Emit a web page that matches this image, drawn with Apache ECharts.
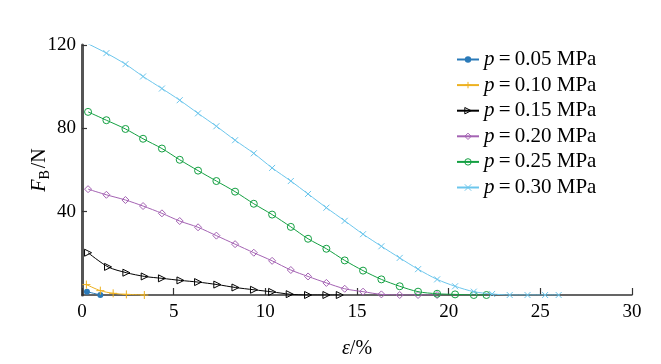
<!DOCTYPE html>
<html>
<head>
<meta charset="utf-8">
<script src="https://cdn.jsdelivr.net/npm/echarts@6/dist/echarts.min.js"></script>
<style>html,body{margin:0;padding:0;background:#fff}#c{width:661px;height:364px}</style>
</head>
<body>
<div id="c"></div>
<script>
// ---- data ----
const pressures = ['0.05', '0.10', '0.15', '0.20', '0.25', '0.30'];
const xTicks = [0, 5, 10, 15, 20, 25, 30];
const yTicks = [40, 80, 120];

const x005 = [0.27, 1.0];
const y005 = [1.6, 0];

const x010 = [0.24, 1.0, 1.7, 2.42, 3.4];
const y010 = [5.0, 2.1, 0.8, 0.3, 0];

const x015 = [0.33, 1.42, 2.42, 3.42, 4.36, 5.37, 6.33, 7.38, 8.37, 9.38, 10.37, 11.33, 12.33, 13.33, 14.06];
const y015 = [20.3, 13.5, 10.7, 8.9, 8.0, 7.0, 6.2, 5.0, 3.6, 2.5, 1.5, 0.4, 0, 0, 0];

const x020 = [0.33, 1.33, 2.37, 3.33, 4.36, 5.33, 6.33, 7.33, 8.35, 9.37, 10.37, 11.39, 12.33, 13.33, 14.33, 15.33, 16.33, 17.33, 18.33, 19.37];
const y020 = [50.8, 48.1, 45.6, 42.7, 39.2, 35.5, 32.5, 28.5, 24.4, 20.3, 16.4, 12.0, 8.9, 5.8, 3.0, 1.6, 0.3, 0, 0, 0];

const x025 = [0.33, 1.33, 2.37, 3.33, 4.36, 5.33, 6.33, 7.33, 8.35, 9.37, 10.37, 11.39, 12.33, 13.33, 14.33, 15.33, 16.33, 17.33, 18.33, 19.37, 20.35, 21.37, 22.06];
const y025 = [87.9, 83.9, 79.7, 75.0, 70.3, 64.9, 59.7, 54.7, 49.6, 43.8, 38.6, 32.7, 27.0, 22.2, 16.6, 11.7, 7.5, 4.2, 1.6, 0.6, 0.3, 0, 0];

const x030 = [0.3, 1.33, 2.37, 3.33, 4.36, 5.33, 6.33, 7.33, 8.35, 9.37, 10.37, 11.39, 12.33, 13.33, 14.33, 15.33, 16.33, 17.33, 18.33, 19.37, 20.35, 21.37, 22.37, 23.33, 24.3, 25.26, 26.0];
const y030 = [120.7, 116.1, 110.8, 104.9, 99.1, 93.5, 87.2, 81.0, 74.3, 68.0, 61.0, 54.7, 48.5, 41.9, 35.6, 29.2, 23.4, 17.8, 12.4, 7.5, 4.2, 1.6, 0.5, 0, 0, 0, 0];

const xs = [x005, x010, x015, x020, x025, x030];
const ys = [y005, y010, y015, y020, y025, y030];

// ---- styles ----
const FONT = '"Liberation Serif", "Times New Roman", serif';
const colors = ['#2a7ab9', '#edb120', '#000000', '#a463b3', '#14a042', '#6cc6ec'];
const symbols = [
  'circle',
  'path://M0,5L10,5M5,0L5,10',
  'path://M1,0L9,5L1,10Z',
  'path://M5,0L10,5L5,10L0,5Z',
  'circle',
  'path://M0,0L10,10M10,0L0,10'
];
const sizes = [6, 8, 7, 7, 7, 6];
const hollow = [false, true, true, true, true, true];

const styleFor = k => hollow[k]
  ? { color: 'rgba(255,255,255,0)', borderColor: colors[k], borderWidth: 1 }
  : { color: colors[k], borderColor: colors[k], borderWidth: 0 };

const series = pressures.map((p, k) => ({
  name: 'p=' + p + ' MPa',
  type: 'line',
  smooth: 0.3,
  data: xs[k].map((x, i) => [x, ys[k][i]]),
  symbol: symbols[k],
  symbolSize: sizes[k],
  showSymbol: true,
  lineStyle: { color: colors[k], width: 1 },
  itemStyle: styleFor(k),
  z: 3 + k
}));

const chart = echarts.init(document.getElementById('c'), null, { renderer: 'canvas' });
chart.setOption({
  animation: false,
  backgroundColor: '#fff',
  grid: { left: 82, right: 29, top: 45, bottom: 62 },
  legend: {
    orient: 'vertical',
    left: 451,
    top: 44,
    itemWidth: 22,
    itemHeight: 8,
    itemGap: 4.6,
    formatter: function (name) {
      return '{i|p}{n|\u2009=\u2009' + name.slice(2) + '}';
    },
    textStyle: {
      fontFamily: FONT, fontSize: 21, color: '#000', lineHeight: 20,
      rich: {
        i: { fontFamily: FONT, fontSize: 21, fontStyle: 'italic', color: '#000', lineHeight: 20 },
        n: { fontFamily: FONT, fontSize: 21, color: '#000', lineHeight: 20 }
      }
    },
    data: series.map((s, k) => ({ name: s.name, itemStyle: styleFor(k) }))
  },
  xAxis: {
    type: 'value', min: 0, max: 30, interval: 5,
    name: '{e|ε}{n|/%}',
    nameLocation: 'middle', nameGap: 44,
    nameTextStyle: {
      fontFamily: FONT, fontSize: 20, color: '#000',
      rich: {
        e: { fontFamily: FONT, fontSize: 20, fontStyle: 'italic', color: '#000' },
        n: { fontFamily: FONT, fontSize: 20, color: '#000' }
      }
    },
    axisLine: { show: true, lineStyle: { color: '#333', width: 1.5 } },
    axisTick: { show: true, inside: true, length: 7, lineStyle: { color: '#333', width: 1.2 } },
    splitLine: { show: false },
    axisLabel: {
      fontFamily: FONT, fontSize: 19, color: '#000', margin: 8,
      formatter: v => (xTicks.indexOf(v) >= 0 ? String(v) : '')
    }
  },
  yAxis: {
    type: 'value', min: 0, max: 120, interval: 40,
    name: '{f|F}{s|B}{n|/N}',
    nameLocation: 'middle', nameGap: 30,
    nameMoveOverlap: false,
    nameTextStyle: {
      fontFamily: FONT, fontSize: 20, color: '#000',
      rich: {
        f: { fontFamily: FONT, fontSize: 20, fontStyle: 'italic', color: '#000' },
        s: { fontFamily: FONT, fontSize: 14, color: '#000', padding: [10, 2, 0, 0] },
        n: { fontFamily: FONT, fontSize: 20, color: '#000' }
      }
    },
    axisLine: { show: true, lineStyle: { color: '#555', width: 3 } },
    axisTick: { show: true, inside: true, length: 5, lineStyle: { color: '#333', width: 1.2 } },
    splitLine: { show: false },
    axisLabel: {
      fontFamily: FONT, fontSize: 19, color: '#000', margin: 6, showMinLabel: false,
      formatter: v => (yTicks.indexOf(v) >= 0 ? String(v) : '')
    }
  },
  series: series
});
</script>
</body>
</html>
